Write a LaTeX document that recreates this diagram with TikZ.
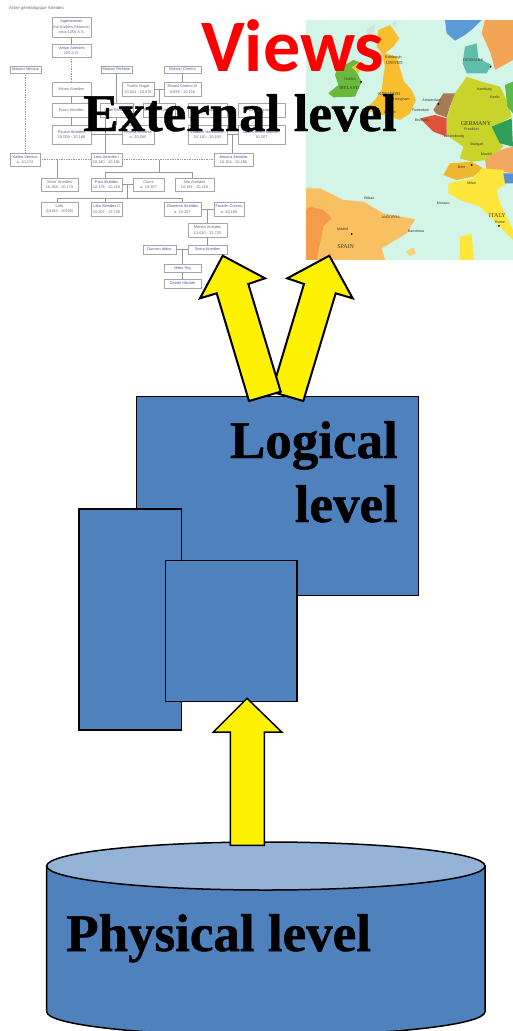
\documentclass[tikz,border=0pt]{standalone}
\usepackage{fontspec}
\setmainfont{Liberation Serif}
\newfontfamily\headfont[BoldFont={Liberation Serif Bold},BoldFeatures={FakeBold=0.9}]{Liberation Serif}
\newfontfamily\treefont{Liberation Sans}
\newfontfamily\viewsfont{Carlito}
\definecolor{boxblue}{HTML}{4F81BD}
\definecolor{topblue}{HTML}{95B3D7}
\definecolor{treegray}{HTML}{A6A6A6}
\definecolor{treeline}{HTML}{979797}
\definecolor{treetext}{HTML}{6E6E78}
\definecolor{treelink}{HTML}{4A5AA0}
\definecolor{seacol}{HTML}{D2F5E8}
\definecolor{mapink}{HTML}{3A3A30}
\tikzset{
  tbox/.style={draw=treegray,line width=0.7pt,fill=white,inner sep=0pt,align=center,text=treetext,
    font=\treefont\fontsize{3.9}{5.6}\selectfont},
  tline/.style={draw=treeline,line width=0.7pt},
  tdot/.style={draw=treeline,line width=0.7pt,densely dotted},
  levelbox/.style={draw=black,line width=1.5pt,fill=boxblue},
  uparrow/.style={draw=black,line width=2pt,fill=yellow,line join=miter},
  heading/.style={inner sep=0pt,anchor=base west,font=\headfont\bfseries\fontsize{53}{64}\selectfont,text=black},
  mapword/.style={inner sep=0pt,text=mapink,font=\treefont\fontsize{3.6}{4}\selectfont},
  mapname/.style={inner sep=0pt,text=mapink,font=\fontsize{6}{6}\selectfont},
}
\newcommand{\tb}[6]{%
  \pgfmathsetmacro{\cxx}{(#2+#4)/2}\pgfmathsetmacro{\cyy}{(#3+#5)/2}%
  \pgfmathsetmacro{\www}{#4-#2}\pgfmathsetmacro{\hhh}{#5-#3}%
  \node[tbox,minimum width=\www pt,minimum height=\hhh pt] (#1) at (\cxx,\cyy) {#6};}
\newcommand{\lk}[1]{\textcolor{treelink}{#1}}
\begin{document}
\begin{tikzpicture}[x=1pt,y=-1pt]
\useasboundingbox (0,0) rectangle (513,1031);
\fill[white] (0,0) rectangle (513,1031);
% family tree
\node[inner sep=0pt,anchor=west,text=treetext,font=\treefont\fontsize{4.3}{5}\selectfont] (title) at (9,8.5) {Arbre généalogique Atreides};
\tb{agam}{52}{17}{91}{37}{\lk{Agamemnon}\\(né Andrew Skouros)\\circa 1255 A.S.}
\tb{vorian}{52}{44}{91}{57}{\lk{Vorian Atreides}\\220 A.G.}
\tb{mvern}{10}{66}{41}{73}{\lk{Maison Vernius}}
\tb{mrich}{101}{66}{132}{73}{\lk{Maison Richese}}
\tb{mcorr}{164}{66}{201}{73}{\lk{Maison Corrino}}
\tb{minos}{52}{82}{91}{96}{Minos Atreides}
\tb{yvette}{122}{82}{154}{96}{Yvette Hagal\\10.024 - 10.075}
\tb{elrood}{164}{82}{201}{96}{\lk{Elrood Corrino IX}\\9.899 - 10.156}
\tb{ewan}{52}{103}{91}{117}{Ewan Atreides}
\tb{ilban}{100}{103}{133}{117}{\lk{Ilban Richese}}
\tb{shaddam}{143}{103}{175}{117}{\lk{Shaddam Corrino}}
\tb{mhark}{188}{103}{227}{117}{\lk{Maison Harkonnen}}
\tb{bene}{238}{103}{285}{117}{\lk{Bene Gesserit}}
\tb{paulus}{52}{125}{91}{144}{\lk{Paulus Atreides}\\10.009 - 10.189}
\tb{helena}{122}{125}{154}{144}{\lk{Helena Richese}\\a. 10.095}
\tb{vlad}{188}{125}{227}{144}{\lk{Vladimir Harkonnen}\\10.110 - 10.193}
\tb{gaius}{238}{125}{285}{144}{\lk{Gaius Helen Mohiam}\\10.207}
\tb{kailea}{10}{153}{40}{166}{\lk{Kailea Vernius}\\a. 10.174}
\tb{letoi}{91}{153}{122}{166}{\lk{Leto Atreides I}\\10.140 - 10.191}
\tb{jessica}{214}{153}{253}{166}{\lk{Jessica Atreides}\\10.154 - 10.256}
\tb{victor}{41}{178}{78}{191}{Victor Atreides\\10.168 - 10.174}
\tb{paul}{91}{178}{122}{191}{\lk{Paul Atreides}\\10.176 - 10.219}
\tb{chani}{133}{178}{164}{191}{Chani\\a. 10.207}
\tb{alia}{175}{178}{214}{191}{Alia Atreides\\10.191 - 10.219}
\tb{leto}{41}{202}{78}{216}{Leto\\(10193 - 10195)}
\tb{letoii}{91}{202}{122}{216}{\lk{Leto Atreides II}\\10.207 - 13.728}
\tb{ghanima}{164}{202}{201}{216}{\lk{Ghanima Atreides}\\a. 10.207}
\tb{faradn}{214}{202}{244}{216}{\lk{Farad'n Corrino}\\a. 10.190}
\tb{moneo}{188}{223}{227}{237}{Moneo Atreides\\13.610 - 13.720}
\tb{siona}{188}{245}{227}{254}{\lk{Siona Atreides}}
\tb{duncan}{143}{245}{176}{254}{\lk{Duncan Idaho}}
\tb{miles}{164}{264}{201}{272}{\lk{Miles Teg}}
\tb{odrade}{164}{279}{201}{288}{\lk{Daniel Odrade}}
% tree junctions
\coordinate (jyv) at (159,89);
\coordinate (jpa) at (105.7,134.5);
\coordinate (jkl) at (57.7,159.5);
\coordinate (jlj) at (159,159.5);
\coordinate (jvg) at (232.5,134.5);
\coordinate (jpc) at (127,184.5);
\coordinate (jch) at (127,198);
\coordinate (jal) at (159,172);
\coordinate (jle) at (57.7,198);
\coordinate (jgh) at (182.5,198);
\coordinate (jgf) at (207.5,209);
\coordinate (jds) at (182.5,249.5);
\coordinate (jp1) at (105.7,172);
\coordinate (ja1) at (192,172);
\coordinate (jl2) at (105.7,198);
\path[tline] (agam) -- (vorian);
\path[tdot] (vorian) -- (minos);
\path[tline] (minos) -- (ewan);
\path[tline] (ewan) -- (paulus);
\path[tdot] (mvern.south -| kailea) -- (kailea);
\path[tline] (mrich.south) -- (mrich.south |- ilban.north);
\path[tline] (mcorr) -- (elrood);
\path[tline] (yvette) -- (elrood);
\path[tline] (jyv) -- (jyv |- shaddam.north);
\path[tline] (ilban) -- (ilban |- helena.north);
\path[tline] (paulus) -- (helena);
\path[tline] (jpa) -- (jpa |- letoi.north);
\path[tline] (ilban.south -| jpa) -- (jpa);
\path[tline] (vlad) -- (gaius);
\path[tline] (jvg) -- (jvg |- jessica.north);
\path[tdot] (kailea) -- (letoi);
\path[tdot] (letoi) -- (jessica);
\path[tline] (jkl) -- (jkl |- victor.north);
\path[tline] (jlj) -- (jal);
\path[tline] (jp1) -- (ja1);
\path[tline] (jp1) -- (jp1 |- paul.north);
\path[tline] (ja1) -- (ja1 |- alia.north);
\path[tline] (paul) -- (chani);
\path[tline] (jpc) -- (jch);
\path[tline] (jle) -- (jgh);
\path[tline] (jle) -- (jle |- leto.north);
\path[tline] (jl2) -- (jl2 |- letoii.north);
\path[tline] (jgh) -- (ghanima);
\path[tline] (ghanima) -- (faradn);
\path[tline] (jgf) -- (moneo);
\path[tline] (moneo) -- (siona);
\path[tline] (duncan) -- (siona);
\path[tline] (jds) -- (miles);
\path[tline] (miles) -- (odrade);
% map, in the coordinates of a 3x crop
\begin{scope}
\clip (306,20) rectangle (513,260);
\fill[seacol] (306,20) rectangle (513,260);
\begin{scope}[shift={(300,10)},x=0.3333pt,y=-0.3333pt]
\fill[fill=white!50!gray!30!seacol] (200,60) -- (225,42) -- (220,70) -- (205,72) -- cycle;
\fill[fill=white!50!gray!30!seacol] (275,40) -- (292,32) -- (285,48) -- cycle;
\fill[fill=white!50!gray!30!seacol] (18,535) -- (35,530) -- (30,600) -- (18,600) -- cycle;
\fill[fill={rgb,255:red,90;green,155;blue,213}] (435,30) -- (545,30) -- (520,55) -- (495,75) -- (465,92) -- (440,70) -- cycle;
\fill[fill={rgb,255:red,242;green,165;blue,85}] (555,30) -- (639,30) -- (639,150) -- (585,180) -- (572,130) -- (545,70) -- cycle;
\fill[fill={rgb,255:red,95;green,190;blue,170}] (495,110) -- (530,100) -- (535,145) -- (575,165) -- (560,190) -- (500,190) -- (488,160) -- cycle;
\fill[fill={rgb,255:red,248;green,190;blue,45}] (235,60) -- (270,45) -- (298,85) -- (280,110) -- (255,130) -- (290,140) -- (300,175) -- (312,215) -- (335,240) -- (348,270) -- (330,310) -- (300,330) -- (270,320) -- (225,310) -- (195,300) -- (225,270) -- (245,240) -- (250,200) -- (255,170) -- (245,130) -- (230,110) -- cycle;
\fill[fill={rgb,255:red,105;green,185;blue,60}] (110,180) -- (160,150) -- (190,160) -- (165,178) -- (185,215) -- (165,260) -- (100,262) -- (85,250) -- (115,225) -- (105,195) -- cycle;
\fill[fill={rgb,255:red,240;green,200;blue,60}] (155,172) -- (180,155) -- (192,165) -- (175,190) -- cycle;
\fill[fill={rgb,255:red,200;green,212;blue,42}] (500,200) -- (545,215) -- (600,230) -- (620,270) -- (635,320) -- (580,350) -- (590,375) -- (610,410) -- (560,450) -- (515,455) -- (480,445) -- (490,410) -- (440,375) -- (440,325) -- (465,250) -- cycle;
\fill[fill={rgb,255:red,92;green,184;blue,74}] (615,225) -- (639,215) -- (639,310) -- (622,290) -- cycle;
\fill[fill={rgb,255:red,46;green,158;blue,90}] (575,350) -- (635,325) -- (639,410) -- (600,400) -- cycle;
\fill[fill={rgb,255:red,166;green,124;blue,82}] (400,300) -- (430,250) -- (465,250) -- (450,290) -- (440,322) -- (410,312) -- cycle;
\fill[fill={rgb,255:red,224;green,83;blue,58}] (360,325) -- (405,315) -- (440,325) -- (440,380) -- (400,365) -- cycle;
\fill[fill={rgb,255:red,242;green,168;blue,96}] (555,450) -- (600,420) -- (639,410) -- (639,490) -- (560,478) -- cycle;
\fill[fill={rgb,255:red,239;green,183;blue,46}] (430,495) -- (450,460) -- (515,455) -- (550,475) -- (520,500) -- (470,510) -- cycle;
\fill[fill={rgb,255:red,255;green,230;blue,58}] (445,520) -- (520,505) -- (545,475) -- (610,480) -- (620,520) -- (590,540) -- (600,580) -- (639,660) -- (639,690) -- (590,640) -- (540,590) -- (480,570) -- (445,550) -- cycle;
\fill[fill={rgb,255:red,91;green,143;blue,208}] (610,490) -- (639,490) -- (639,520) -- (615,520) -- cycle;
\fill[fill={rgb,255:red,248;green,192;blue,96}] (18,535) -- (60,535) -- (130,570) -- (190,575) -- (250,610) -- (345,628) -- (320,670) -- (245,715) -- (255,750) -- (18,750) -- cycle;
\fill[fill={rgb,255:red,245;green,155;blue,74}] (30,590) -- (70,600) -- (95,625) -- (70,650) -- (60,700) -- (50,750) -- (18,750) -- (18,600) -- cycle;
\fill[fill={rgb,255:red,255;green,230;blue,58}] (480,680) -- (515,672) -- (522,750) -- (480,750) -- cycle;
\fill[fill={rgb,255:red,248;green,210;blue,110}] (318,725) -- (340,712) -- (348,730) -- (328,738) -- cycle;
\node[mapname] (mdublin) at (150,206) {\fontsize{4}{4}\selectfont Dublin};
\node[mapname] (mirl) at (148,234) {\fontsize{4.5}{4.5}\selectfont IRELAND};
\node[mapname] (muni) at (283,158) {\fontsize{4.5}{4.5}\selectfont UNITED};
\node[mapname] (mking) at (268,252) {\fontsize{4.5}{4.5}\selectfont KINGDOM};
\node[mapname] (mden) at (520,152) {\fontsize{4}{4}\selectfont DENMARK};
\node[mapname] (mger) at (528,342) {GERMANY};
\node[mapname] (mita) at (592,618) {ITALY};
\node[mapname] (mspa) at (137,711) {SPAIN};
\node[mapword] (mmad) at (128,659) {Madrid};
\node[mapword] (mbil) at (208,566) {Bilbao};
\node[mapword] (mand) at (272,622) {ANDORRA};
\node[mapword] (mbar) at (348,664) {Barcelona};
\node[mapword] (mams) at (395,272) {Amsterdam};
\node[mapword] (mbru) at (362,300) {Rotterdam};
\node[mapword] (mbel) at (365,332) {Brussels};
\node[mapword] (mlux) at (462,380) {Luxembourg};
\node[mapword] (mham) at (553,238) {Hamburg};
\node[mapword] (mber) at (585,263) {Berlin};
\node[mapword] (mfra) at (515,358) {Frankfurt};
\node[mapword] (mstu) at (530,404) {Stuttgart};
\node[mapword] (mmun) at (560,432) {Munich};
\node[mapword] (mber2) at (485,472) {Bern};
\node[mapword] (mmil) at (515,520) {Milan};
\node[mapword] (mmon) at (430,580) {Monaco};
\node[mapword] (mrom) at (600,636) {Rome};
\node[mapword] (mlon) at (300,268) {Birmingham};
\node[mapword] (mlon2) at (270,308) {London};
\node[mapword] (medi) at (280,143) {Edinburgh};
\fill[black] (183,216) circle[radius=3];
\fill[black] (155,672) circle[radius=3];
\fill[black] (415,282) circle[radius=3];
\fill[black] (597,648) circle[radius=3];
\fill[black] (515,465) circle[radius=3];
\fill[black] (572,170) circle[radius=3];
\end{scope}
\end{scope}
% level shapes
\path[levelbox] (136.7,396.7) rectangle (418.7,595.7);
\path[levelbox] (79,509) rectangle (181.7,730);
\path[levelbox] (165.7,560.3) rectangle (297,701.3);
% cylinder
\path[draw=black,line width=1.5pt,fill=boxblue] (46.7,866) -- (46.7,1011.7) arc[start angle=180,end angle=360,x radius=219.15,y radius=-24] -- (485,866) -- cycle;
\path[draw=black,line width=1.5pt,fill=topblue] (265.85,866) ellipse[x radius=219.15,y radius=24];
% arrows
\path[uparrow,line width=1.5pt] (247,698.3) -- (281.7,732) -- (264.3,732) -- (264.3,845.3) -- (230.3,845.3) -- (230.3,732) -- (213.3,732) -- cycle;
\path[uparrow] (329.3,255.7) -- (352.7,298.3) -- (335.7,293.3) -- (303.3,401) -- (271.7,391.7) -- (304,284) -- (287.3,278.3) -- cycle;
\path[uparrow] (222.7,255.7) -- (265,278.3) -- (248.3,284) -- (280.7,391.7) -- (249,401) -- (216.7,293.3) -- (200,298.3) -- cycle;
% headings
\node[inner sep=0pt,anchor=base west,text=red,font=\viewsfont\bfseries\fontsize{74}{74}\selectfont] (views) at (201,71) {Views};
\node[heading] (external) at (83,131) {External level};
\node[heading,anchor=base east] (logical) at (398,458) {Logical};
\node[heading,anchor=base east] (level) at (398,522) {level};
\node[heading] (physical) at (66,951) {Physical level};
\end{tikzpicture}
\end{document}
